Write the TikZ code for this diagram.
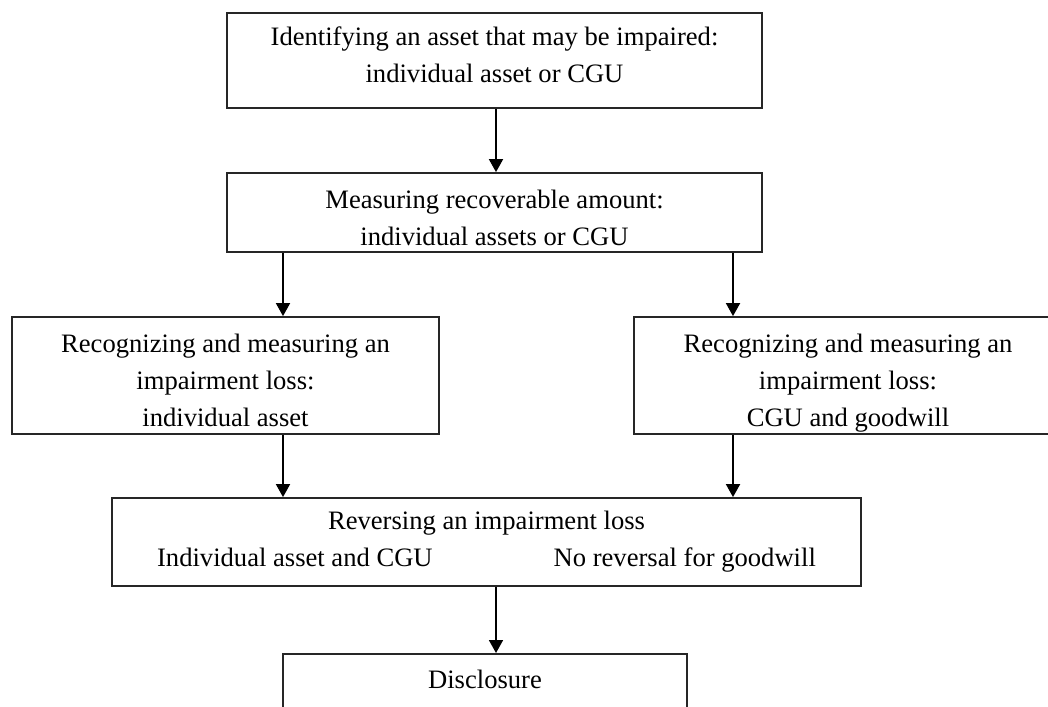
\documentclass[tikz,border=0pt]{standalone}
\usepackage{fontspec}
\setmainfont{Liberation Serif}
\usepackage{tikz}
\usetikzlibrary{positioning,arrows.meta}

\begin{document}
\begin{tikzpicture}[
	x=0.5pt, y=-0.5pt,
	stepbox/.style={
		draw=black!85, line width=0.9pt, fill=white,
		align=center, inner sep=0pt,
		font=\fontsize{13.3}{18.5}\selectfont
	},
	flow/.style={
		draw=black, line width=0.9pt,
		-{Triangle[width=7pt,length=6.5pt]}
	}
	]
	\useasboundingbox (0,0) rectangle (1048,706);
	
	% columns of the arrows
	\coordinate (cm) at (496,0);
	\coordinate (cl) at (283,0);
	\coordinate (cr) at (733,0);
	
	% first two steps
	\node[stepbox, minimum width=267.5pt, minimum height=47.5pt, text depth=6pt] (ident) at (494.5,60.5)
	{Identifying an asset that may be impaired:\\ individual asset or CGU};
	\node[stepbox, minimum width=267.5pt, minimum height=39.5pt, text height=32.5pt, text depth=0pt] (meas) at (494.5,212.5)
	{Measuring recoverable amount:\\ individual assets or CGU};
	
	% the two loss boxes (right one runs off the page)
	\node[stepbox, minimum width=213.5pt, minimum height=58.5pt, text height=51pt, text depth=0pt] (lossA) at (225.5,375.5)
	{Recognizing and measuring an\\ impairment loss:\\ individual asset};
	\node[stepbox, minimum width=214pt, minimum height=58.5pt, text height=51pt, text depth=0pt] (lossB) at (848,375.5)
	{Recognizing and measuring an\\ impairment loss:\\ CGU and goodwill};
	
	% reversal and disclosure
	\node[stepbox, minimum width=374.5pt, minimum height=44pt] (rev) at (486.5,542)
	{Reversing an impairment loss\\ Individual asset and CGU\hspace{60.5pt}No reversal for goodwill};
	\node[stepbox, anchor=north, minimum width=202pt, inner ysep=8pt, text depth=30pt] (discl) at (485,653)
	{Disclosure};
	
	\draw[flow] (ident.south -| cm) -- (meas.north -| cm);
	\draw[flow] (meas.south -| cl) -- (lossA.north -| cl);
	\draw[flow] (meas.south -| cr) -- (lossB.north -| cr);
	\draw[flow] (lossA.south -| cl) -- (rev.north -| cl);
	\draw[flow] (lossB.south -| cr) -- (rev.north -| cr);
	\draw[flow] (rev.south -| cm) -- (discl.north -| cm);
\end{tikzpicture}
\end{document}
